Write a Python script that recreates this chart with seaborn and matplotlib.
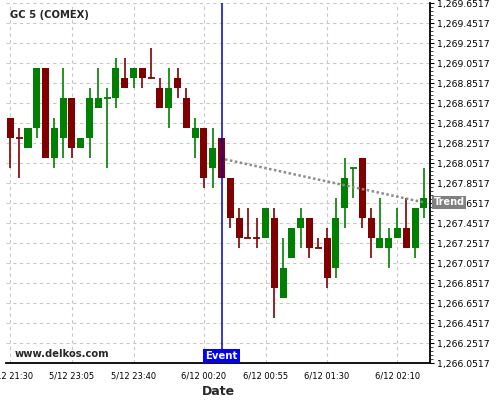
import numpy as np
import pandas as pd
import seaborn as sns
import matplotlib
matplotlib.use("Agg")
import matplotlib.pyplot as plt
import matplotlib.transforms as mtransforms
from matplotlib.ticker import FixedLocator, FuncFormatter, MultipleLocator

# 5 minute candles, GC 5 (COMEX)
opens = [1268.5, 1268.3, 1268.2, 1268.4, 1269.0, 1268.1, 1268.3, 1268.7, 1268.2, 1268.3,
         1268.6, 1268.7, 1268.7, 1268.9, 1268.9, 1269.0, 1268.9, 1268.8, 1268.6, 1268.9,
         1268.7, 1268.3, 1268.4, 1268.0, 1268.3, 1267.9, 1267.5, 1267.3, 1267.3, 1267.3,
         1267.5, 1266.7, 1267.1, 1267.4, 1267.5, 1267.2, 1267.3, 1267.0, 1267.6, 1268.0,
         1268.1, 1267.5, 1267.2, 1267.2, 1267.3, 1267.4, 1267.2, 1267.6]
highs = [1268.5, 1268.4, 1268.4, 1269.0, 1269.0, 1268.5, 1269.0, 1268.7, 1268.3, 1268.8,
         1269.0, 1268.8, 1269.1, 1269.1, 1269.0, 1269.0, 1269.2, 1268.9, 1269.0, 1269.0,
         1268.8, 1268.5, 1268.4, 1268.4, 1268.3, 1267.9, 1267.6, 1267.6, 1267.5, 1267.6,
         1267.6, 1267.3, 1267.4, 1267.6, 1267.5, 1267.3, 1267.4, 1267.7, 1268.1, 1268.0,
         1268.1, 1267.6, 1267.7, 1267.4, 1267.6, 1267.7, 1267.6, 1268.0]
lows = [1268.0, 1267.9, 1268.2, 1268.3, 1268.1, 1268.0, 1268.1, 1268.1, 1268.2, 1268.1,
        1268.6, 1268.0, 1268.6, 1268.8, 1268.8, 1268.8, 1268.9, 1268.6, 1268.4, 1268.7,
        1268.4, 1268.1, 1267.8, 1267.8, 1267.9, 1267.4, 1267.2, 1267.3, 1267.2, 1267.3,
        1266.5, 1266.7, 1267.1, 1267.2, 1267.1, 1267.2, 1266.8, 1266.9, 1267.4, 1267.7,
        1267.4, 1267.1, 1267.2, 1267.0, 1267.3, 1267.2, 1267.1, 1267.5]
closes = [1268.3, 1268.3, 1268.4, 1269.0, 1268.1, 1268.4, 1268.7, 1268.2, 1268.3, 1268.7,
          1268.7, 1268.7, 1269.0, 1268.8, 1269.0, 1268.9, 1268.9, 1268.6, 1268.8, 1268.8,
          1268.4, 1268.4, 1267.9, 1268.2, 1267.9, 1267.5, 1267.3, 1267.3, 1267.3, 1267.6,
          1266.8, 1267.0, 1267.4, 1267.5, 1267.2, 1267.2, 1266.9, 1267.5, 1267.9, 1268.0,
          1267.5, 1267.3, 1267.3, 1267.3, 1267.4, 1267.2, 1267.6, 1267.7]
doji_up = [11, 39]  # doji candles drawn green

tick_pos = [0, 7, 14, 22, 29, 36, 44]
tick_labels = ["5/12 21:30", "5/12 23:05", "5/12 23:40", "6/12 00:20",
               "6/12 00:55", "6/12 01:30", "6/12 02:10"]

event_idx = 24
trend_x = [24.4, 47]
trend_y = [1268.09, 1267.66]

y_min, y_max = 1266.0517, 1269.6517

df = pd.DataFrame({"open": opens, "high": highs, "low": lows, "close": closes})
df["idx"] = np.arange(len(df))
up = (df["close"] > df["open"]) | df["idx"].isin(doji_up)
df["color"] = np.where(up, "#008000", "#800000")

sns.set_style("white")
plt.rcParams["font.family"] = ["DejaVu Sans"]

fig = plt.figure(figsize=(5, 4), dpi=100)
ax = fig.add_axes([0.012, 0.092, 0.848, 0.9])

# grid
grid_kw = dict(color="#c8c8c8", linestyle=(0, (3, 3)), linewidth=0.8)
ax.grid(True, which="major", **grid_kw)
ax.set_axisbelow(True)

# wicks
ax.vlines(df["idx"], df["low"], df["high"], colors=df["color"], linewidth=1.2, zorder=2)

# bodies
body = df[df["open"] != df["close"]]
ax.bar(body["idx"], (body["close"] - body["open"]).abs(),
       bottom=body[["open", "close"]].min(axis=1),
       width=0.8, color=body["color"], linewidth=0, zorder=3)
doji = df[df["open"] == df["close"]]
ax.hlines(doji["open"], doji["idx"] - 0.4, doji["idx"] + 0.4,
          colors=doji["color"], linewidth=1.3, zorder=3)

# event line
ax.axvline(event_idx, color="#0000cc", linewidth=1.1, zorder=4)
trans = mtransforms.blended_transform_factory(ax.transData, ax.transAxes)
ax.text(event_idx, 0.007, "Event", transform=trans, ha="center", va="bottom",
        color="white", fontsize=7.3, fontweight="bold", zorder=6,
        bbox=dict(boxstyle="square,pad=0.2", fc="#0000ff", ec="none"))

# trend line
sns.lineplot(x=trend_x, y=trend_y, ax=ax, color="#8c8c8c", linewidth=1.8,
             linestyle=(0, (1, 1)), zorder=5)
trans2 = mtransforms.blended_transform_factory(ax.transAxes, ax.transData)
ax.text(1.008, trend_y[-1], "Trend", transform=trans2, ha="left", va="center",
        color="white", fontsize=7, fontweight="bold", zorder=6, clip_on=False,
        bbox=dict(boxstyle="square,pad=0.15", fc="#808080", ec="none"))

# axes
ax.set_xlim(-0.5, 47.7)
ax.set_ylim(y_min, y_max)
ax.xaxis.set_major_locator(FixedLocator(tick_pos))
ax.set_xticklabels(tick_labels)
minor = []
for a, b in zip(tick_pos[:-1], tick_pos[1:]):
    minor += [a + (b - a) * k / 4 for k in (1, 2, 3)]
minor += [44 + 2, 44 + 4 - 0.3]
ax.xaxis.set_minor_locator(FixedLocator(minor))

ax.yaxis.tick_right()
ax.yaxis.set_major_locator(FixedLocator(np.round(np.arange(y_min, y_max + 0.01, 0.2), 4)))
ax.yaxis.set_minor_locator(MultipleLocator(0.04, offset=y_min))
ax.yaxis.set_major_formatter(FuncFormatter(lambda v, p: f"{v:,.4f}"))

ax.tick_params(axis="both", which="major", length=3, width=0.8,
               colors="black", direction="out")
ax.tick_params(axis="both", which="minor", length=2, width=0.6, direction="out")
ax.tick_params(axis="x", labelsize=6, pad=3)
ax.tick_params(axis="y", labelsize=6.7, pad=2)

for s in ["top", "left"]:
    ax.spines[s].set_visible(False)
for s in ["bottom", "right"]:
    ax.spines[s].set_visible(True)
    ax.spines[s].set_color("black")
    ax.spines[s].set_linewidth(1.3)

ax.set_xlabel("Date", fontsize=9, fontweight="bold", labelpad=3)
ax.set_ylabel("")

fig.text(0.02, 0.962, "GC 5 (COMEX)", fontsize=7.2, fontweight="bold", va="center")
fig.text(0.03, 0.115, "www.delkos.com", fontsize=7.2, fontweight="bold", va="center")

fig.savefig("out.png", dpi=100)
